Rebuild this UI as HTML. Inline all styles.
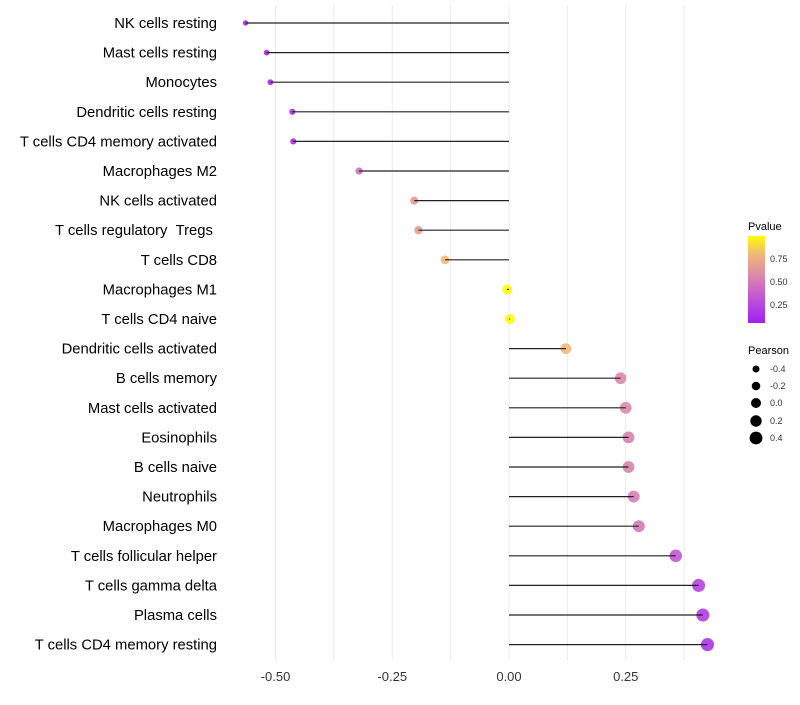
<!DOCTYPE html>
<html><head><meta charset="utf-8"><style>
body{margin:0;background:#fff;font-family:"Liberation Sans",sans-serif}
</style></head><body>
<svg id="c" width="800" height="700" xmlns="http://www.w3.org/2000/svg">
<defs><linearGradient id="pg" x1="0" y1="1" x2="0" y2="0">
<stop offset="0" stop-color="#a020f0"/><stop offset="0.3" stop-color="#c257d6"/><stop offset="0.55" stop-color="#dc8aa8"/><stop offset="0.8" stop-color="#f2b878"/><stop offset="1" stop-color="#ffff00"/></linearGradient></defs>
<g id="grid"></g><g id="marks"></g><g id="stems"></g><g id="labels"></g>
<g font-size="9" fill="#333">
<text x="748" y="230" font-size="11" fill="#000">Pvalue</text>
<rect x="748" y="236" width="17" height="87" fill="url(#pg)"/>
<text x="770" y="262">0.75</text><text x="770" y="285">0.50</text><text x="770" y="308">0.25</text>
</g>
<g font-size="9" fill="#333">
<text x="748" y="354" font-size="11" fill="#000">Pearson</text>
<circle cx="756" cy="369" r="3.5" fill="#000"/><text x="770" y="372">-0.4</text>
<circle cx="756" cy="386" r="4.3" fill="#000"/><text x="770" y="389">-0.2</text>
<circle cx="756" cy="403" r="5" fill="#000"/><text x="770" y="406">0.0</text>
<circle cx="756" cy="421" r="5.7" fill="#000"/><text x="770" y="424">0.2</text>
<circle cx="756" cy="438" r="6.4" fill="#000"/><text x="770" y="441">0.4</text>
</g>
</svg>
<script>
const categories=["NK cells resting","Mast cells resting","Monocytes","Dendritic cells resting","T cells CD4 memory activated","Macrophages M2","NK cells activated","T cells regulatory \u00a0Tregs\u00a0","T cells CD8","Macrophages M1","T cells CD4 naive","Dendritic cells activated","B cells memory","Mast cells activated","Eosinophils","B cells naive","Neutrophils","Macrophages M0","T cells follicular helper","T cells gamma delta","Plasma cells","T cells CD4 memory resting"];
const pearson=[-0.564,-0.519,-0.511,-0.464,-0.462,-0.321,-0.203,-0.194,-0.137,-0.004,0.002,0.122,0.239,0.25,0.256,0.256,0.267,0.278,0.357,0.406,0.415,0.425];
const pvalue=[0.08,0.1,0.1,0.12,0.12,0.4,0.6,0.6,0.75,0.99,0.99,0.75,0.5,0.5,0.47,0.47,0.45,0.43,0.3,0.2,0.18,0.15];
const ticks=[-0.5,-0.25,0,0.25];
const tickLabels=["-0.50","-0.25","0.00","0.25"];
const ns="http://www.w3.org/2000/svg";
const X=v=>509+v*467;
const Y=i=>23+i*29.6;
const R=v=>4.9+3.9*v;
function col(p){const st=[[0.06,[160,32,240]],[0.3,[194,87,214]],[0.5,[220,138,168]],[0.75,[242,184,120]],[1,[255,255,0]]];
p=Math.max(0.06,Math.min(1,p));for(let k=0;k<st.length-1;k++){const a=st[k],b=st[k+1];if(p<=b[0]){const t=(p-a[0])/(b[0]-a[0]);return`rgb(${a[1].map((c,j)=>Math.round(c+(b[1][j]-c)*t)).join(',')})`;}}return'rgb(255,255,0)';}
function mk(t,a,parent){const e=document.createElementNS(ns,t);for(const k in a)e.setAttribute(k,a[k]);document.getElementById(parent).appendChild(e);return e;}
for(let g=-0.5;g<=0.4;g+=0.125){const l=mk('line',{x1:X(g),x2:X(g),y1:5,y2:660,stroke:'#ebebeb','stroke-width':1},'grid');

}
ticks.forEach((t,i)=>{const e=mk('text',{x:X(t),y:681,'text-anchor':'middle','font-size':13,fill:'#333'},'labels');e.textContent=tickLabels[i];

});
categories.forEach((c,i)=>{const y=Y(i);
const t=mk('text',{x:217,y:y+5,'text-anchor':'end','font-size':14.8,fill:'#000'},'labels');t.textContent=c;


const d=mk('circle',{cx:X(pearson[i]),cy:y,r:R(pearson[i]),fill:col(pvalue[i]),'fill-opacity':0.9},'marks');


const l=mk('line',{x1:X(0),x2:X(pearson[i]),y1:y,y2:y,stroke:'#222','stroke-width':1.2},'stems');

});
</script>
</body></html>
